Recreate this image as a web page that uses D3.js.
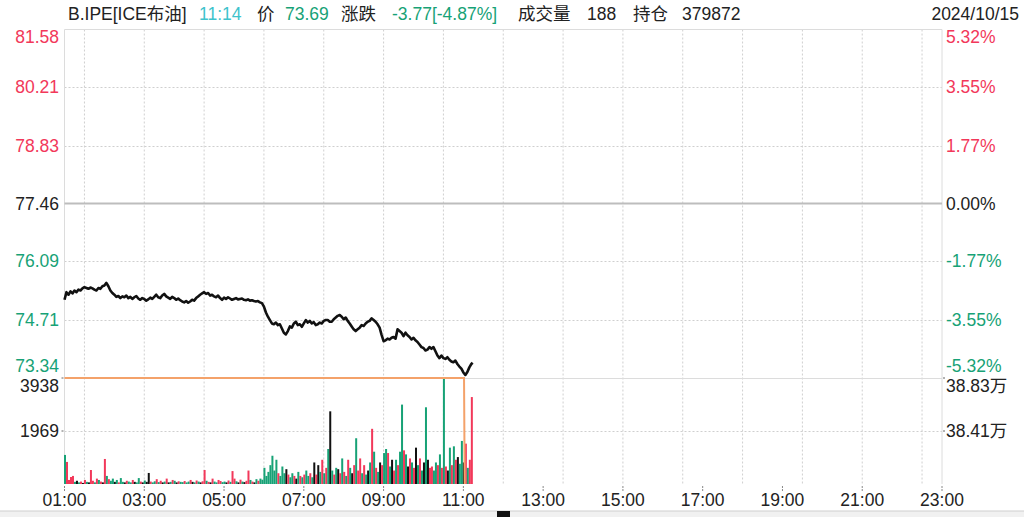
<!DOCTYPE html>
<html><head><meta charset="utf-8">
<script src="https://cdn.jsdelivr.net/npm/d3@7"></script>
<style>
html,body{margin:0;padding:0;background:#fff;}
svg{display:block;font-family:"Liberation Sans",Arial,"Noto Sans CJK SC",sans-serif;}
</style></head>
<body><svg id="c" width="1024" height="517"></svg>
<script>
// ---------------- data ----------------
const prevClose = 77.46;
const priceTicks = [81.58, 80.21, 78.83, 77.46, 76.09, 74.71, 73.34];
const pctTicks = ["5.32%", "3.55%", "1.77%", "0.00%", "-1.77%", "-3.55%", "-5.32%"];
const volTicks = [3938, 1969];
const oiTickLabels = ["38.83万", "38.41万"];
const timeLabels = ["01:00","03:00","05:00","07:00","09:00","11:00","13:00","15:00","17:00","19:00","21:00","23:00"];
const gridTimes = ["01:30","03:00","04:30","06:00","07:30","09:00","10:30","12:00","13:30","15:00","16:30","18:00","19:30","21:00","22:30"];
// price sampled every 3 minutes from 01:00, last point 11:14
const priceTimes = d3.range(0, 613, 3).concat([614]);
const prices = [
75.18,75.36,75.30,75.38,75.33,75.40,75.36,75.42,75.40,75.45,
75.48,75.46,75.44,75.47,75.45,75.42,75.40,75.46,75.44,75.50,
75.52,75.58,75.50,75.40,75.34,75.30,75.25,75.27,75.22,75.26,
75.24,75.28,75.22,75.25,75.20,75.24,75.27,75.21,75.18,75.22,
75.20,75.16,75.19,75.23,75.20,75.25,75.30,75.24,75.22,75.28,
75.32,75.26,75.23,75.20,75.25,75.22,75.18,75.21,75.17,75.14,
75.12,75.15,75.11,75.14,75.18,75.16,75.22,75.26,75.30,75.33,
75.36,75.32,75.34,75.28,75.30,75.26,75.24,75.28,75.22,75.18,
75.23,75.20,75.24,75.21,75.18,75.20,75.22,75.19,75.20,75.21,
75.18,75.17,75.19,75.16,75.17,75.15,75.14,75.15,75.12,75.10,
75.02,74.88,74.78,74.70,74.62,74.60,74.64,74.58,74.60,74.50,
74.40,74.36,74.44,74.55,74.52,74.62,74.66,74.58,74.60,74.54,
74.62,74.70,74.64,74.68,74.62,74.65,74.58,74.60,74.64,74.62,
74.68,74.70,74.70,74.66,74.66,74.72,74.76,74.80,74.82,74.78,
74.72,74.76,74.68,74.62,74.55,74.48,74.44,74.48,74.52,74.58,
74.56,74.62,74.66,74.68,74.74,74.70,74.66,74.60,74.52,74.35,
74.20,74.22,74.26,74.24,74.28,74.30,74.26,74.48,74.44,74.40,
74.32,74.40,74.34,74.30,74.24,74.28,74.22,74.18,74.12,74.06,
74.04,73.98,74.00,74.06,74.02,74.06,73.96,73.86,73.80,73.86,
73.80,73.78,73.82,73.76,73.72,73.70,73.74,73.66,73.60,73.55,
73.46,73.40,73.47,73.58,73.66,73.69];
// volume per 3-minute bucket from 01:00
const volumes = [
1080,820,150,260,300,80,120,60,90,40,
150,80,60,520,120,60,200,150,90,60,
930,300,180,120,200,80,150,60,220,80,
60,120,90,60,150,80,60,220,90,60,
130,80,410,90,60,100,180,70,120,60,
90,200,60,80,150,120,60,100,80,70,
110,60,90,150,80,60,130,90,60,100,
520,120,80,60,200,90,60,150,110,70,
90,60,130,80,480,200,100,60,160,90,
70,120,500,150,90,60,180,120,200,160,
600,300,450,700,1050,500,900,400,300,650,
400,550,350,250,400,300,200,450,300,250,
350,500,300,400,250,800,350,700,450,900,
400,600,1300,2700,500,350,600,550,400,950,
450,300,900,600,400,700,1700,500,950,400,
700,350,500,800,2050,1200,600,450,800,700,
1150,1300,1150,650,900,500,900,700,1200,2950,
1250,1100,650,950,800,600,1350,700,950,500,
800,2850,900,600,650,500,800,700,1100,600,
3938,650,500,1350,700,1400,900,1000,750,1600,
800,1500,600,900,3230];
// r = up, g = down, k = flat
const volDirs = (
"grrrrgkgrk"+"rgkrrgrgrk"+"rgrggkgrgg"+"krggrkggrk"+"gkkrggrgrk"+
"grkgrgkrgg"+"rggrkgrgkr"+"rgrkrggrrg"+"gkrgrrgkrg"+"krrgrkgrgg"+
"gggggggrgg"+"gkrggrkgrg"+"rggrgkrkgr"+"grgkgrgkrg"+"rgrgkrgrrg"+
"rgkgrgrgkr"+"ggrgkrgrgg"+"rgkrgrkgrg"+"kgkrrggrgr"+"grkgrgrkgg"+"krgrr").split("");
// open interest
const oiTimes = [0, 601, 602];
const oiValues = [388300, 388300, 379872];

// ---------------- drawing ----------------
const RED = "#f2385a", GREEN = "#17a276", DARK = "#222", GRID = "#cfcfcf";
const FS = "17.5px";
const svg = d3.select("#c");
const L = 64.5, R = 942, T = 29.5, MID = 378, B = 484;
const toMin = s => { const [h, m] = s.split(":").map(Number); return h * 60 + m - 60; };

const x = d3.scaleLinear().domain([0, 1320]).range([L, R]);
const y = d3.scaleLinear().domain([73.34, 81.58]).range([377.5, T]);
const yv = d3.scaleLinear().domain([0, 3938]).range([B, MID]);
const yo = d3.scaleLinear().domain([379872, 388300]).range([B, MID]).clamp(true);

// header
const hdr = [
  {t: "B.IPE[ICE布油]", x: 68, c: DARK},
  {t: "11:14", x: 199, c: "#3ec3cc"},
  {t: "价", x: 257, c: DARK},
  {t: "73.69", x: 285, c: GREEN},
  {t: "涨跌", x: 341, c: DARK},
  {t: "-3.77[-4.87%]", x: 392, c: GREEN},
  {t: "成交量", x: 518, c: DARK},
  {t: "188", x: 587, c: DARK},
  {t: "持仓", x: 633, c: DARK},
  {t: "379872", x: 682, c: DARK}
];
svg.selectAll("text.hdr").data(hdr).join("text").attr("class", "hdr")
  .attr("x", d => d.x).attr("y", 20).attr("fill", d => d.c)
  .style("font-size", FS).text(d => d.t);
svg.append("text").attr("x", 1019).attr("y", 20).attr("text-anchor", "end")
  .attr("fill", DARK).style("font-size", FS).text("2024/10/15");

// vertical grid
svg.append("g").selectAll("line").data(gridTimes).join("line")
  .attr("x1", d => x(toMin(d))).attr("x2", d => x(toMin(d)))
  .attr("y1", T).attr("y2", B)
  .attr("stroke", GRID).attr("stroke-dasharray", "2,2").attr("stroke-width", 1);

// horizontal price grid (inner)
svg.append("g").selectAll("line").data(priceTicks.filter((d, i) => i > 0 && i < priceTicks.length - 1 && d !== prevClose)).join("line")
  .attr("x1", L).attr("x2", R).attr("y1", d => Math.round(y(d)) + 0.5).attr("y2", d => Math.round(y(d)) + 0.5)
  .attr("stroke", GRID).attr("stroke-dasharray", "2,2");
// volume mid grid
svg.append("line").attr("x1", L).attr("x2", R).attr("y1", Math.round(yv(1969)) + 0.5).attr("y2", Math.round(yv(1969)) + 0.5)
  .attr("stroke", GRID).attr("stroke-dasharray", "2,2");

// frame
const frame = svg.append("g").attr("stroke", "#dcdcdc").attr("stroke-width", 1);
frame.append("line").attr("x1", L).attr("x2", R).attr("y1", T).attr("y2", T);
frame.append("line").attr("x1", L).attr("x2", L).attr("y1", T).attr("y2", B);
frame.append("line").attr("x1", R).attr("x2", R).attr("y1", T).attr("y2", B);
frame.append("line").attr("x1", L).attr("x2", R).attr("y1", MID + 0.5).attr("y2", MID + 0.5);
// prev close line
svg.append("line").attr("x1", L).attr("x2", R).attr("y1", y(prevClose)).attr("y2", y(prevClose))
  .attr("stroke", "#bdbdbd").attr("stroke-width", 2);

// volume bars
const colorOf = c => c === "r" ? RED : c === "g" ? GREEN : "#111";
svg.append("g").selectAll("rect").data(volumes).join("rect")
  .attr("x", (d, i) => x(i * 3) - 0.5)
  .attr("width", 2)
  .attr("y", d => yv(d))
  .attr("height", d => B - yv(d))
  .attr("fill", (d, i) => colorOf(volDirs[i]));

// open interest line
const oiData = oiTimes.map((t, i) => [t, oiValues[i]]);
svg.append("path").datum(oiData)
  .attr("d", d3.line().x(d => x(d[0])).y(d => yo(d[1])))
  .attr("fill", "none").attr("stroke", "#f4a26a").attr("stroke-width", 2);

// price line
const pData = priceTimes.map((t, i) => [t, prices[i]]);
svg.append("path").datum(pData)
  .attr("d", d3.line().x(d => x(d[0])).y(d => y(d[1])))
  .attr("fill", "none").attr("stroke", "#111").attr("stroke-width", 2.6)
  .attr("stroke-linejoin", "round");

// left price labels
const n = priceTicks.length;
const labelY = (v, i) => i === 0 ? y(v) + 13 : i === n - 1 ? y(v) - 5.5 : y(v) + 6;
const colOf = v => v > prevClose ? RED : v < prevClose ? GREEN : DARK;
svg.append("g").selectAll("text").data(priceTicks).join("text")
  .attr("x", 59).attr("y", (d, i) => labelY(d, i)).attr("text-anchor", "end")
  .attr("fill", d => colOf(d)).style("font-size", FS).text(d => d.toFixed(2));
// right pct labels
svg.append("g").selectAll("text").data(pctTicks).join("text")
  .attr("x", 946).attr("y", (d, i) => labelY(priceTicks[i], i))
  .attr("fill", (d, i) => colOf(priceTicks[i])).style("font-size", FS).text(d => d);
// volume labels
svg.append("g").selectAll("text").data(volTicks).join("text")
  .attr("x", 59).attr("y", (d, i) => i === 0 ? yv(d) + 14 : yv(d) + 6).attr("text-anchor", "end")
  .attr("fill", DARK).style("font-size", FS).text(d => d);
svg.append("g").selectAll("text").data(oiTickLabels).join("text")
  .attr("x", 946).attr("y", (d, i) => i === 0 ? yv(volTicks[0]) + 14 : yv(volTicks[1]) + 6)
  .attr("fill", DARK).style("font-size", FS).text(d => d);
// small tick dots
svg.append("g").selectAll("line").data(volTicks).join("line")
  .attr("x1", L - 3).attr("x2", L - 1).attr("y1", d => yv(d)).attr("y2", d => yv(d)).attr("stroke", "#666");
svg.append("g").selectAll("line").data(volTicks).join("line")
  .attr("x1", R + 1).attr("x2", R + 3).attr("y1", d => yv(d)).attr("y2", d => yv(d)).attr("stroke", "#666");

// time axis
svg.append("g").selectAll("line").data(timeLabels).join("line")
  .attr("x1", d => x(toMin(d))).attr("x2", d => x(toMin(d)))
  .attr("y1", 486).attr("y2", 492).attr("stroke", "#888").attr("stroke-dasharray", "2,1");
svg.append("g").selectAll("text").data(timeLabels).join("text")
  .attr("x", d => x(toMin(d))).attr("y", 505.5).attr("text-anchor", "middle")
  .attr("fill", DARK).style("font-size", FS).text(d => d);

// bottom bar
svg.append("rect").attr("x", 0).attr("y", 511).attr("width", 1024).attr("height", 6).attr("fill", "#f1f1f1");
svg.append("line").attr("x1", 0).attr("x2", 1024).attr("y1", 511).attr("y2", 511).attr("stroke", "#cfcfcf");
svg.append("rect").attr("x", 497).attr("y", 511).attr("width", 13).attr("height", 6).attr("fill", "#111");
</script></body></html>
